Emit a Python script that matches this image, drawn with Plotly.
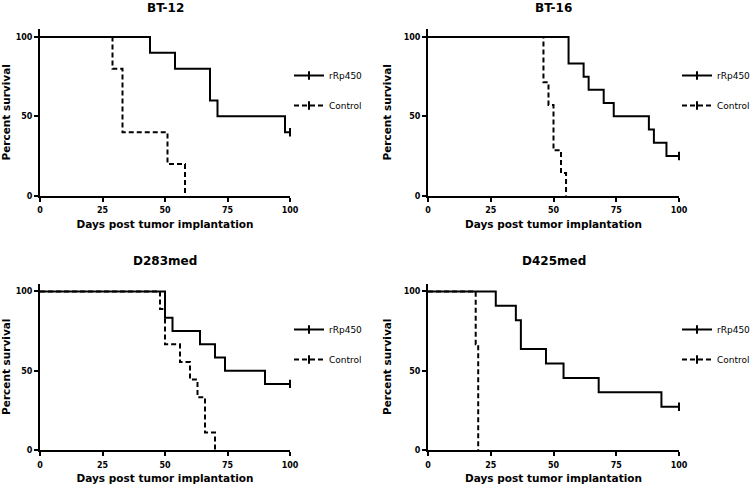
import plotly.graph_objects as go

# ---------------- data ----------------
panel_titles = ["BT-12", "BT-16", "D283med", "D425med"]
series_names = ["rRp450", "Control"]

bt12_rrp_days = [0, 44, 54, 68, 71, 98, 100]
bt12_rrp_surv = [100, 90, 80, 60, 50, 40, 40]
bt12_ctl_days = [0, 29, 33, 51, 58]
bt12_ctl_surv = [100, 80, 40, 20, 0]

bt16_rrp_days = [0, 56, 62, 64, 70, 74, 88, 90, 95, 100]
bt16_rrp_surv = [100, 83.33, 75, 66.67, 58.33, 50, 41.67, 33.33, 25, 25]
bt16_ctl_days = [0, 46, 48, 50, 53, 55]
bt16_ctl_surv = [100, 71.43, 57.14, 28.57, 14.29, 0]

d283_rrp_days = [0, 50, 53, 64, 70, 74, 90, 100]
d283_rrp_surv = [100, 83.33, 75, 66.67, 58.33, 50, 41.67, 41.67]
d283_ctl_days = [0, 48, 50, 56, 60, 63, 66, 70]
d283_ctl_surv = [100, 88.89, 66.67, 55.56, 44.44, 33.33, 11.11, 0]

d425_rrp_days = [0, 27, 35, 37, 47, 54, 68, 93, 100]
d425_rrp_surv = [100, 90.91, 81.82, 63.64, 54.55, 45.45, 36.36, 27.27, 27.27]
d425_ctl_days = [0, 19, 20]
d425_ctl_surv = [100, 66.67, 0]

x_ticks = [0, 25, 50, 75, 100]
y_ticks = [0, 50, 100]
x_title = "Days post tumor implantation"
y_title = "Percent survival"

panels = [
    (bt12_rrp_days, bt12_rrp_surv, bt12_ctl_days, bt12_ctl_surv),
    (bt16_rrp_days, bt16_rrp_surv, bt16_ctl_days, bt16_ctl_surv),
    (d283_rrp_days, d283_rrp_surv, d283_ctl_days, d283_ctl_surv),
    (d425_rrp_days, d425_rrp_surv, d425_ctl_days, d425_ctl_surv),
]

# ---------------- layout geometry ----------------
W, H = 755, 488
ML, MR, MT, MB = 40, 76, 29, 38
PW, PH = W - ML - MR, H - MT - MB

def px_x(p):
    return (p - ML) / PW

def px_y(p):
    return (H - MB - p) / PH

x_domains = [[px_x(40), px_x(290)], [px_x(428), px_x(679)]]
y_domains = [[px_y(195.7), px_y(29)], [px_y(450), px_y(283.5)]]

FONT = "DejaVu Sans"
fig = go.Figure()

dashes = ["solid", "5px,3px"]

for i, (rd, rs, cd, cs) in enumerate(panels):
    ax = "" if i == 0 else str(i + 1)
    xa, ya = "x" + ax, "y" + ax
    leg = "legend" if i == 0 else "legend" + str(i + 1)
    for j, (d, s) in enumerate([(rd, rs), (cd, cs)]):
        # step line
        fig.add_trace(go.Scatter(
            x=d, y=s, mode="lines", line=dict(shape="hv", color="black", width=2, dash=dashes[j]),
            xaxis=xa, yaxis=ya, showlegend=False, cliponaxis=False, hoverinfo="skip"))
        # censor tick at the last point if survival > 0
        if s[-1] > 0:
            fig.add_trace(go.Scatter(
                x=[d[-1]], y=[s[-1]], mode="markers",
                marker=dict(symbol="line-ns", size=6, line=dict(color="black", width=2)),
                xaxis=xa, yaxis=ya, showlegend=False, cliponaxis=False, hoverinfo="skip"))
        # legend entry
        fig.add_trace(go.Scatter(
            x=[None], y=[None], mode="lines+markers", name=series_names[j],
            line=dict(color="black", width=2, dash=dashes[j]),
            marker=dict(symbol="line-ns", size=6, color="black", line=dict(color="black", width=2)),
            xaxis=xa, yaxis=ya, legend=leg, legendgroup=f"g{i}{j}", showlegend=True))

axis_common = dict(
    showline=True, linecolor="black", linewidth=2, ticks="outside", ticklen=4,
    tickwidth=2, tickcolor="black", showgrid=False, zeroline=False, automargin=False,
    tickfont=dict(family=FONT, size=8, color="black", weight="bold"),
)

layout = dict(
    width=W, height=H, margin=dict(l=ML, r=MR, t=MT, b=MB, autoexpand=False),
    plot_bgcolor="white", paper_bgcolor="white",
)

annotations = []
for i in range(4):
    col, row = i % 2, i // 2
    ax = "" if i == 0 else str(i + 1)
    layout["xaxis" + ax] = dict(
        axis_common, domain=x_domains[col], range=[0, 100], tickvals=x_ticks,
        anchor="y" + ax, ticklabelstandoff=2,
        title=dict(text=x_title, font=dict(family=FONT, size=10.5, color="black", weight="bold"), standoff=6))
    layout["yaxis" + ax] = dict(
        axis_common, domain=y_domains[row], range=[0, 105], tickvals=y_ticks,
        anchor="x" + ax,
        title=dict(text=y_title, font=dict(family=FONT, size=10.5, color="black", weight="bold"), standoff=10))
    xc = (x_domains[col][0] + x_domains[col][1]) / 2
    ty = 8 if row == 0 else 261
    annotations.append(dict(
        text=panel_titles[i], x=xc, y=px_y(ty), xref="paper", yref="paper",
        xanchor="center", yanchor="middle", showarrow=False,
        font=dict(family=FONT, size=12, color="black", weight="bold")))
    leg = "legend" if i == 0 else "legend" + str(i + 1)
    lx = 289 if col == 0 else 677
    ly = 61 if row == 0 else 315
    layout[leg] = dict(
        x=px_x(lx), y=px_y(ly), xanchor="left", yanchor="top",
        bgcolor="rgba(0,0,0,0)", borderwidth=0, tracegroupgap=11, itemwidth=30,
        font=dict(family=FONT, size=9, color="black"))

layout["annotations"] = annotations
fig.update_layout(**layout)
fig.write_html("out.html",
               config={"displayModeBar": False},
               post_script="document.body.style.margin='0';document.body.style.padding='0';")
